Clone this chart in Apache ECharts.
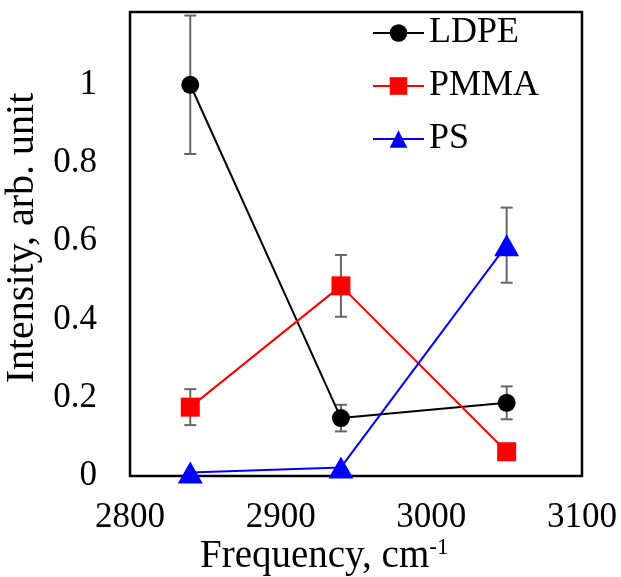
<!DOCTYPE html>
<html>
<head>
<meta charset="utf-8">
<style>
  html, body { margin: 0; padding: 0; background: #fff; }
  #chart { width: 621px; height: 577px; }
</style>
<script src="https://cdn.jsdelivr.net/npm/echarts@6/dist/echarts.min.js"></script>
</head>
<body>
<div id="chart"></div>
<script>
// frequencies (cm-1)
var freq = [2840, 2940, 3050];
var names = ['LDPE', 'PMMA', 'PS'];

// intensities
var ldpe = [1.0, 0.148, 0.187];
var pmma = [0.176, 0.486, 0.062];
var ps = [0.009, 0.022, 0.59];

// error half widths (0 = no bar)
var ldpeErr = [0.177, 0.034, 0.042];
var pmmaErr = [0.046, 0.079, 0];
var psErr = [0, 0, 0.096];

var font = 'Liberation Serif, Times New Roman, serif';

function pairs(ys) {
    return freq.map(function (x, i) { return [x, ys[i]]; });
}

function errData(ys, es) {
    var out = [];
    freq.forEach(function (x, i) {
        if (es[i] > 0) out.push([x, ys[i] - es[i], ys[i] + es[i]]);
    });
    return out;
}

function errSeries(ys, es) {
    return {
        type: 'custom',
        data: errData(ys, es),
        encode: { x: 0, y: [1, 2] },
        z: 1,
        silent: true,
        renderItem: function (params, api) {
            var lo = api.coord([api.value(0), api.value(1)]);
            var hi = api.coord([api.value(0), api.value(2)]);
            var w = 6;
            var st = { stroke: '#666666', lineWidth: 2 };
            return {
                type: 'group',
                children: [
                    { type: 'line', shape: { x1: lo[0], y1: lo[1], x2: hi[0], y2: hi[1] }, style: st },
                    { type: 'line', shape: { x1: lo[0] - w, y1: lo[1], x2: lo[0] + w, y2: lo[1] }, style: st },
                    { type: 'line', shape: { x1: hi[0] - w, y1: hi[1], x2: hi[0] + w, y2: hi[1] }, style: st }
                ]
            };
        }
    };
}

var chart = echarts.init(document.getElementById('chart'));

var option = {
    animation: false,
    grid: {
        left: 130, right: 39, top: 12, bottom: 101,
        outerBoundsMode: 'none',
        containLabel: false,
        show: true, borderColor: '#000', borderWidth: 2.5
    },
    legend: {
        orient: 'vertical',
        left: 367, top: 10,
        itemWidth: 51, itemHeight: 22, itemGap: 17,
        textStyle: { fontFamily: font, fontSize: 36, color: '#000' },
        data: names
    },
    xAxis: {
        type: 'value',
        min: 2800, max: 3100, interval: 100,
        axisLine: { show: false },
        axisTick: { show: false },
        splitLine: { show: false },
        axisLabel: {
            fontFamily: font, fontSize: 35, color: '#000', margin: 24,
            formatter: function (v) { return String(v); }
        }
    },
    yAxis: {
        type: 'value',
        min: 0, max: 1.186, interval: 0.2,
        axisLine: { show: false },
        axisTick: { show: false },
        splitLine: { show: false },
        axisLabel: { fontFamily: font, fontSize: 35, color: '#000', margin: 33, showMaxLabel: false },
        name: 'Intensity, arb. unit',
        nameLocation: 'middle',
        nameGap: 80,
        nameTextStyle: { fontFamily: font, fontSize: 40, color: '#000', padding: [0, 0, 0, 12] }
    },
    graphic: [{
        type: 'text',
        left: 200, top: 536,
        style: {
            text: '{a|Frequency, cm}{b|-1}',
            rich: {
                a: { fontFamily: font, fontSize: 39, fill: '#000', lineHeight: 42 },
                b: { fontFamily: font, fontSize: 23, fill: '#000', verticalAlign: 'top', lineHeight: 42, padding: [0, 0, 14, 0] }
            }
        }
    }],
    series: [
        errSeries(ldpe, ldpeErr),
        errSeries(pmma, pmmaErr),
        errSeries(ps, psErr),
        {
            name: 'LDPE', type: 'line', data: pairs(ldpe),
            symbol: 'circle', symbolSize: 18, clip: false, z: 3,
            lineStyle: { color: '#000', width: 2 },
            itemStyle: { color: '#000' }
        },
        {
            name: 'PMMA', type: 'line', data: pairs(pmma),
            symbol: 'rect', symbolSize: 19, clip: false, z: 3,
            lineStyle: { color: '#ff0000', width: 2 },
            itemStyle: { color: '#ff0000' }
        },
        {
            name: 'PS', type: 'line', data: pairs(ps),
            symbol: 'triangle', symbolSize: [25, 22], clip: false, z: 3,
            lineStyle: { color: '#0000ff', width: 2 },
            itemStyle: { color: '#0000ff' }
        }
    ]
};
chart.setOption(option);
</script>
</body>
</html>
